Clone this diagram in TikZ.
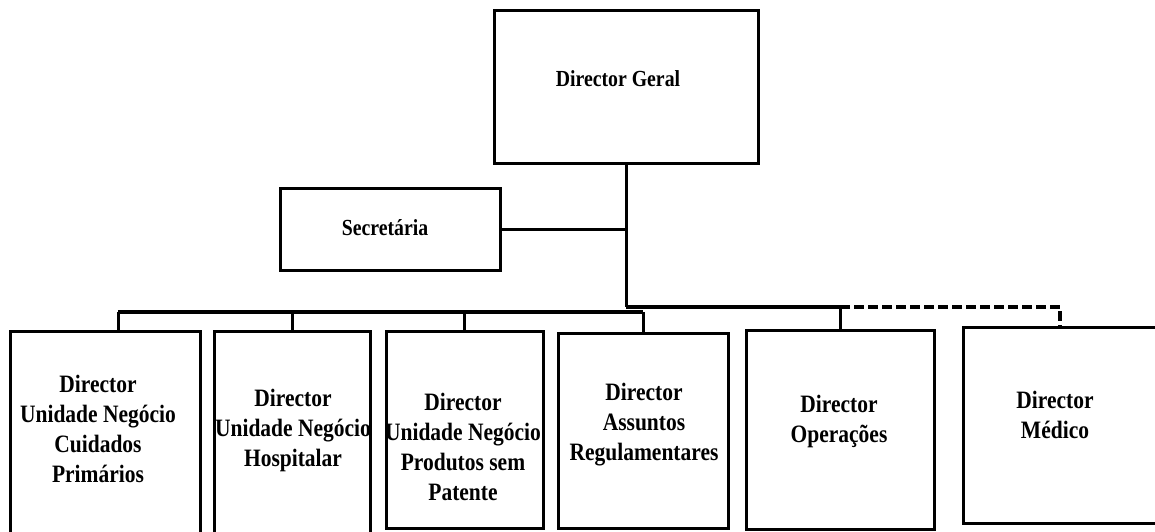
\documentclass[tikz,border=0pt]{standalone}
\usepackage{fontspec}
\newfontfamily\orgfont[FakeStretch=0.86]{Liberation Serif}
\usetikzlibrary{positioning,calc}

\begin{document}
\begin{tikzpicture}[x=1pt, y=-1pt,
    box/.style={draw, line width=3pt, inner sep=0pt},
    txt/.style={align=center, inner sep=0pt, font=\orgfont\bfseries\fontsize{25}{30}\selectfont},
    toptxt/.style={txt, font=\orgfont\bfseries\fontsize{23}{28}\selectfont},
    link/.style={line width=3pt},
    bus/.style={line width=4.5pt}]
    \useasboundingbox (0,0) rectangle (1155,531);
    \clip (0,0) rectangle (1155,531);
    % Top level
    \node[box, minimum width=264pt, minimum height=153pt] (geral) at (626,86.5) {};
    \node[toptxt] (geral-t) at (618,79) {Director Geral};
    \node[box, minimum width=220pt, minimum height=82pt] (sec) at (390,229) {};
    \node[toptxt] (sec-t) at (385,228) {Secretária};
    % Directors
    \node[box, minimum width=190pt, minimum height=204pt] (cuid) at (105,433) {};
    \node[txt] (cuid-t) at (98,429) {Director\\Unidade Negócio\\Cuidados\\Primários};
    \node[box, minimum width=156pt, minimum height=204pt] (hosp) at (292,433) {};
    \node[txt] (hosp-t) at (293,430) {Director\\Unidade Negócio\\Hospitalar};
    \node[box, minimum width=157pt, minimum height=197pt] (pat) at (464.5,429.5) {};
    \node[txt] (pat-t) at (463,447) {Director\\Unidade Negócio\\Produtos sem\\Patente};
    \node[box, minimum width=170pt, minimum height=195pt] (reg) at (643,430.5) {};
    \node[txt] (reg-t) at (644,425) {Director\\Assuntos\\Regulamentares};
    \node[box, minimum width=188pt, minimum height=199pt] (oper) at (840,429.5) {};
    \node[txt] (oper-t) at (839,421) {Director\\Operações};
    \node[box, minimum width=197pt, minimum height=196pt] (med) at (1061.5,425) {};
    \node[txt] (med-t) at (1055,415) {Director\\Médico};
    % Bus points
    \coordinate (spine) at (626,307);
    \coordinate (b1) at (118,312);
    \coordinate (b4) at (643,312);
    \coordinate (b5) at (840,307);
    \coordinate (b6) at (1060,307);
    % Lines
    \draw[link] (geral.south) -- (spine);
    \draw[link] (sec.east) -- (sec.east -| geral.south);
    \draw[bus] (b1) -- (b4);
    \draw[bus] (spine) -- (b5);
    \draw[link] (b1) -- (b1 |- cuid.north);
    \draw[link] (hosp.north |- b1) -- (hosp.north);
    \draw[link] (pat.north |- b1) -- (pat.north);
    \draw[link] (b4) -- (b4 |- reg.north);
    \draw[link] (b5) -- (oper.north);
    \draw[bus, dash pattern=on 10pt off 4pt] (b5) -- (b6) -- (b6 |- med.north);
\end{tikzpicture}
\end{document}
